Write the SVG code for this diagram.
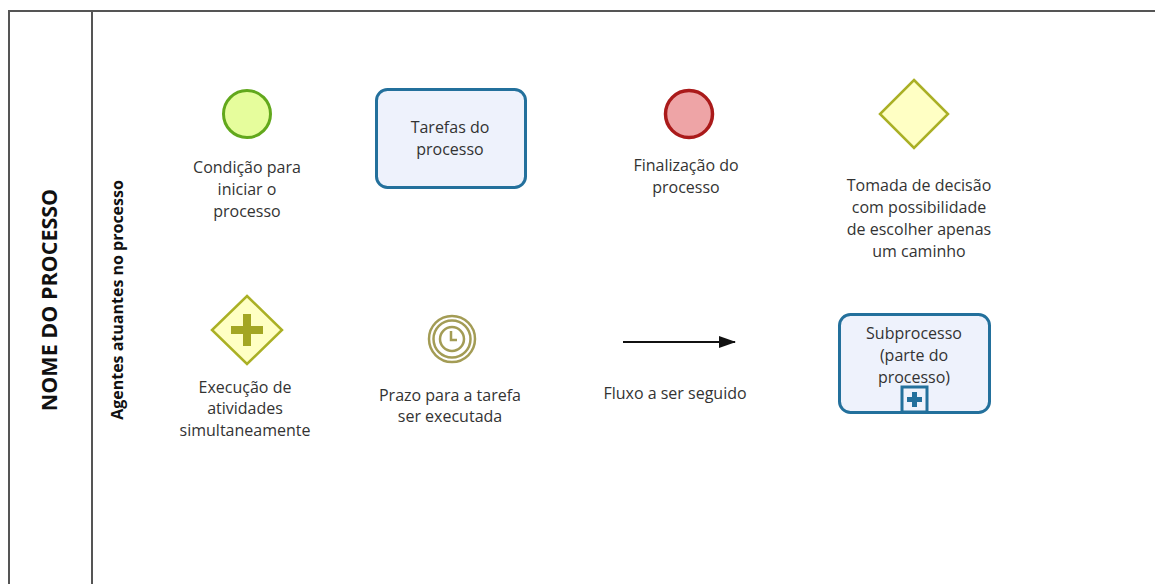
<svg xmlns="http://www.w3.org/2000/svg" width="1155" height="584" viewBox="0 0 1155 584">
<style>
.lbl{font-family:"Open Sans","Noto Sans","Liberation Sans",sans-serif;font-size:16px;fill:#333;text-anchor:middle}
.frame{fill:none;stroke:#555;stroke-width:2}
.task{fill:#eef2fc;stroke:#23709c;stroke-width:3}
.gw{fill:#ffffc4;stroke:#aab025;stroke-width:2.5}
.timer{fill:none;stroke:#a39c55;stroke-width:2.5}
</style>
<defs>
<marker id="arr" markerWidth="17" markerHeight="12" refX="16" refY="6" orient="auto" markerUnits="userSpaceOnUse">
<path d="M0,0 L17,6 L0,12 Z" fill="#111"/>
</marker>
</defs>
<rect width="1155" height="584" fill="#fff"/>
<g id="pool">
<path class="frame" d="M9,584 V11 H1155"/>
<line class="frame" x1="92" y1="11" x2="92" y2="584" stroke="#777"/>
<text transform="translate(57,300) rotate(-90)" style="font-family:'Open Sans','Noto Sans',sans-serif;font-size:21.5px;font-weight:bold;fill:#111;text-anchor:middle">NOME DO PROCESSO</text>
<text transform="translate(123,300) rotate(-90)" style="font-family:'Open Sans','Noto Sans',sans-serif;font-size:16px;font-weight:bold;fill:#111;text-anchor:middle">Agentes atuantes no processo</text>
</g>
<g id="start">
<circle cx="247" cy="114" r="23.5" fill="#e6fd9c" stroke="#62a81c" stroke-width="3"/>
<text class="lbl"><tspan x="247" y="173">Condição para</tspan><tspan x="247" y="195">iniciar o</tspan><tspan x="247" y="217">processo</tspan></text>
</g>
<g id="task">
<rect class="task" x="376.5" y="89.5" width="149" height="98" rx="11"/>
<text class="lbl"><tspan x="450" y="133">Tarefas do</tspan><tspan x="450" y="155">processo</tspan></text>
</g>
<g id="end">
<circle cx="689" cy="114" r="23.5" fill="#eea4a6" stroke="#aa1a1a" stroke-width="3.5"/>
<text class="lbl"><tspan x="686" y="171">Finalização do</tspan><tspan x="686" y="193">processo</tspan></text>
</g>
<g id="xor">
<path class="gw" d="M914,80 L948,114 L914,148 L880,114 Z" fill="#ffffc8"/>
<text class="lbl"><tspan x="919" y="191">Tomada de decisão</tspan><tspan x="919" y="213">com possibilidade</tspan><tspan x="919" y="235">de escolher apenas</tspan><tspan x="919" y="257">um caminho</tspan></text>
</g>
<g id="parallel">
<path class="gw" d="M247,296 L282,330 L247,364 L212,330 Z"/>
<path d="M247,314 V346 M231,330 H263" stroke="#a3a623" stroke-width="8" fill="none"/>
<text class="lbl"><tspan x="245" y="393">Execução de</tspan><tspan x="245" y="414">atividades</tspan><tspan x="245" y="436">simultaneamente</tspan></text>
</g>
<g id="timer">
<circle class="timer" cx="452" cy="339" r="23"/>
<circle class="timer" cx="452" cy="339" r="18.5"/>
<circle class="timer" cx="452" cy="339" r="12"/>
<path d="M451,331 V340 H457" fill="none" stroke="#a39c55" stroke-width="2.5"/>
<text class="lbl"><tspan x="450" y="401">Prazo para a tarefa</tspan><tspan x="450" y="422">ser executada</tspan></text>
</g>
<g id="connectors">
<line x1="623" y1="342" x2="735" y2="342" stroke="#111" stroke-width="2" marker-end="url(#arr)"/>
</g>
<g id="flow-label">
<text class="lbl" x="675" y="399">Fluxo a ser seguido</text>
</g>
<g id="subprocess">
<rect class="task" x="839.5" y="314.5" width="150" height="98" rx="11"/>
<rect x="902" y="387" width="25" height="25" fill="#eef2fc" stroke="#23709c" stroke-width="3"/>
<path d="M914.5,392 V407 M907,399.5 H922" stroke="#23709c" stroke-width="5" fill="none"/>
<text class="lbl"><tspan x="914" y="339">Subprocesso</tspan><tspan x="914" y="361">(parte do</tspan><tspan x="914" y="383">processo)</tspan></text>
</g>
</svg>
